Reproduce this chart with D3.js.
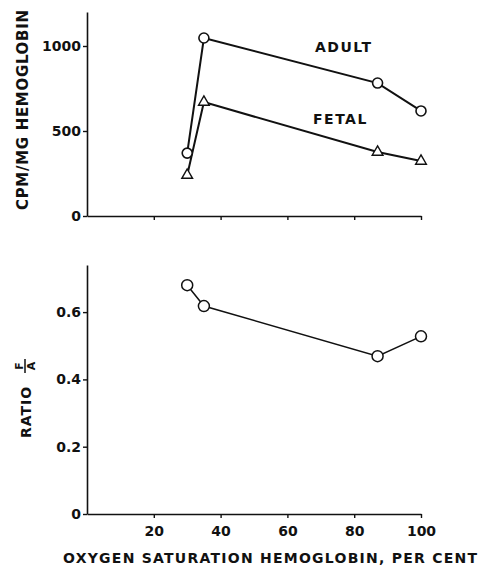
<!DOCTYPE html>
<html>
<head>
<meta charset="utf-8">
<script src="https://cdn.jsdelivr.net/npm/d3@7"></script>
<style>
  body { margin: 0; background: #fff; }
  text { font-family: "DejaVu Sans", sans-serif; font-weight: bold; fill: #111; }
</style>
</head>
<body>
<svg width="482" height="568"></svg>
<script>
// values
const saturation = [30, 35, 87, 100];
const adult = [370, 1047, 782, 618];
const fetal = [240, 670, 376, 323];
const ratioX = [30, 35, 87, 100];
const ratio = [0.68, 0.618, 0.469, 0.528];

const xTicks = [20, 40, 60, 80, 100];
const topTicks = [0, 500, 1000];
const bottomTicks = [0, 0.2, 0.4, 0.6];

const svg = d3.select('svg');
const ink = '#111';

const x = d3.scaleLinear().domain([0, 100]).range([87, 421]);
const yTop = d3.scaleLinear().domain([0, 1200]).range([216, 12]);
const yBot = d3.scaleLinear().domain([0, 0.74]).range([514, 265]);

function drawAxes(y, yTickVals, fmt, showXLabels) {
    const gy = svg.append('g').attr('transform', 'translate(' + x(0) + ',0)')
        .call(d3.axisLeft(y).tickValues(yTickVals).tickFormat(fmt).tickSize(4).tickSizeOuter(0).tickPadding(2));
    const gx = svg.append('g').attr('transform', 'translate(0,' + y(0) + ')')
        .call(d3.axisBottom(x).tickValues(xTicks).tickFormat(showXLabels ? d3.format('d') : '').tickSize(4).tickSizeOuter(0).tickPadding(8));
    [gy, gx].forEach(g => {
        g.select('.domain').attr('stroke', ink).attr('stroke-width', 1.6);
        g.selectAll('.tick line').attr('stroke', ink).attr('stroke-width', 1.4);
        g.selectAll('.tick text').attr('font-size', 14).attr('font-family', '"DejaVu Sans", sans-serif')
            .attr('font-weight', 'bold').attr('fill', ink);
    });
}

drawAxes(yTop, topTicks, d3.format('d'), false);
drawAxes(yBot, bottomTicks, d => d === 0 ? '0' : d3.format('.1f')(d), true);

// top panel lines
const adultPts = saturation.map((s, i) => [s, adult[i]]);
const fetalPts = saturation.map((s, i) => [s, fetal[i]]);
const lineTop = d3.line().x(d => x(d[0])).y(d => yTop(d[1]));

svg.append('path').attr('d', lineTop(adultPts)).attr('fill', 'none').attr('stroke', ink).attr('stroke-width', 2);
svg.append('path').attr('d', lineTop(fetalPts)).attr('fill', 'none').attr('stroke', ink).attr('stroke-width', 2);

svg.selectAll('.adult').data(adultPts).enter().append('circle')
    .attr('cx', d => x(d[0])).attr('cy', d => yTop(d[1])).attr('r', 5)
    .attr('fill', '#fff').attr('stroke', ink).attr('stroke-width', 1.6);

const tri = d3.symbol().type(d3.symbolTriangle).size(50);
svg.selectAll('.fetal').data(fetalPts).enter().append('path')
    .attr('d', tri).attr('transform', d => 'translate(' + x(d[0]) + ',' + yTop(d[1]) + ')')
    .attr('fill', '#fff').attr('stroke', ink).attr('stroke-width', 1.4);

svg.append('text').attr('x', 315).attr('y', 52).attr('font-size', 14).attr('letter-spacing', 1.5).text('ADULT');
svg.append('text').attr('x', 313).attr('y', 124).attr('font-size', 14).attr('letter-spacing', 1.5).text('FETAL');

// bottom panel
const ratioPts = ratioX.map((s, i) => [s, ratio[i]]);
const lineBot = d3.line().x(d => x(d[0])).y(d => yBot(d[1]));
svg.append('path').attr('d', lineBot(ratioPts)).attr('fill', 'none').attr('stroke', ink).attr('stroke-width', 1.5);
svg.selectAll('.ratio').data(ratioPts).enter().append('circle')
    .attr('cx', d => x(d[0])).attr('cy', d => yBot(d[1])).attr('r', 5.5)
    .attr('fill', '#fff').attr('stroke', ink).attr('stroke-width', 1.5);

// axis titles
svg.append('text').attr('transform', 'translate(28,110) rotate(-90)').attr('text-anchor', 'middle')
    .attr('font-size', 15).attr('textLength', 200).attr('lengthAdjust', 'spacing').text('CPM/MG HEMOGLOBIN');

svg.append('text').attr('transform', 'translate(31,412) rotate(-90)').attr('text-anchor', 'middle')
    .attr('font-size', 14).attr('letter-spacing', 1).text('RATIO');
const frac = svg.append('g').attr('transform', 'translate(25,366) rotate(-90)');
frac.append('text').attr('x', 0).attr('y', -2).attr('text-anchor', 'middle').attr('font-size', 11).text('F');
frac.append('line').attr('x1', -7).attr('x2', 7).attr('y1', 0).attr('y2', 0).attr('stroke', ink).attr('stroke-width', 1.5);
frac.append('text').attr('x', 0).attr('y', 10).attr('text-anchor', 'middle').attr('font-size', 11).text('A');

svg.append('text').attr('x', 270).attr('y', 563).attr('text-anchor', 'middle')
    .attr('font-size', 14).attr('textLength', 414).attr('lengthAdjust', 'spacing')
    .text('OXYGEN SATURATION HEMOGLOBIN, PER CENT');
</script>
</body>
</html>
